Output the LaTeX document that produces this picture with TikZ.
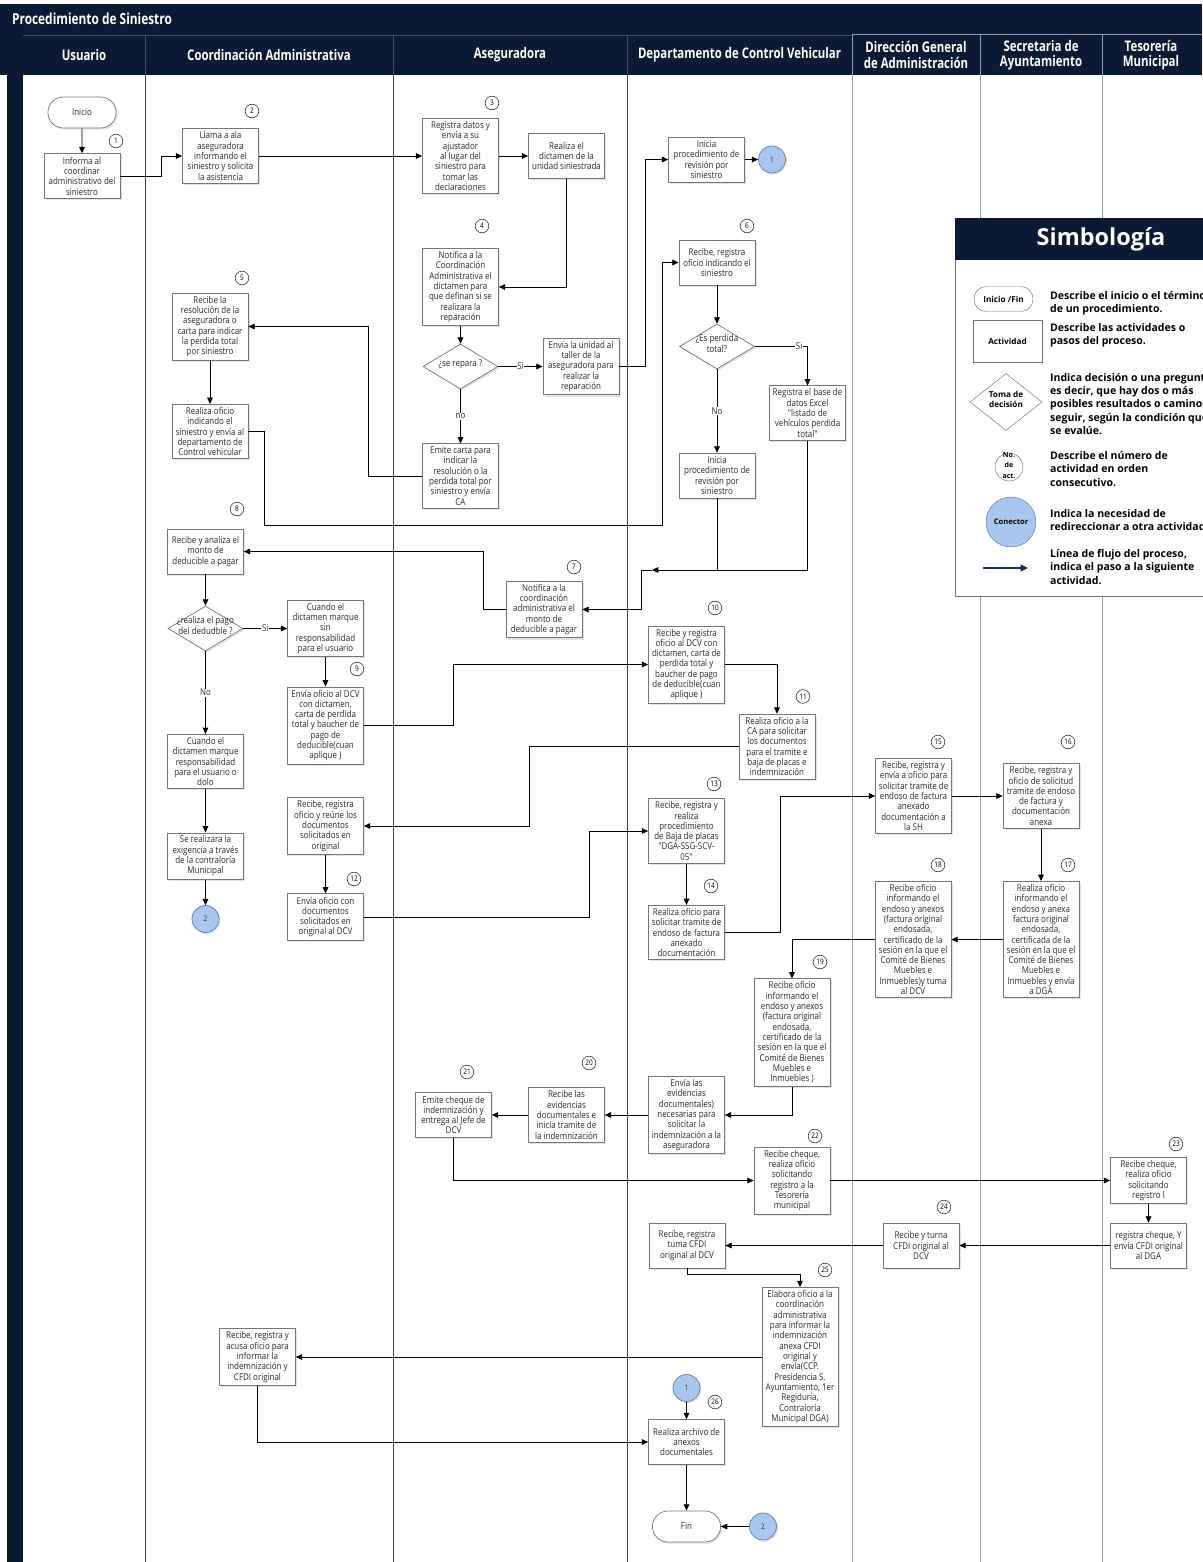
\documentclass[tikz,border=0pt]{standalone}
\usepackage{fontspec}
\setmainfont{Open Sans}
\newfontfamily\condfont{Open Sans}[FakeStretch=0.85]
\newfontfamily\hdrfont{Open Sans}[FakeStretch=0.78]
\usepackage{xcolor}
\usepackage{tikz}
\usetikzlibrary{
  arrows.meta, shapes.geometric, shapes.misc, shadows
}

\definecolor{navy}{HTML}{0A1A34}
\definecolor{hdrline}{HTML}{3B4B63}
\definecolor{lanegray}{HTML}{8C9DA3}
\definecolor{boxline}{HTML}{767676}
\definecolor{txtgray}{HTML}{2B2B2B}
\definecolor{conblue}{HTML}{A8C6EE}
\definecolor{conline}{HTML}{5F7EA9}
\definecolor{flecha}{HTML}{1C2C66}

\newcommand{\boxtext}{\condfont\fontsize{8}{8.8}\selectfont}
\newcommand{\numtext}{\condfont\fontsize{6.5}{7}\selectfont}
\newcommand{\dtxt}[1]{\raisebox{-0.3ex}{\makebox[0pt]{\smash{\begin{tabular}{@{}c@{}}#1\end{tabular}}}}}

\begin{document}
\begin{tikzpicture}[
    x=0.3mm, y=-0.3mm,
    sombra/.style={drop shadow={opacity=0.22, shadow xshift=0.5mm, shadow yshift=-0.5mm}},
    actbox/.style={draw=boxline, line width=0.6pt, fill=white, text=txtgray,
                   font=\boxtext, align=center, minimum width=22.8mm,
                   minimum height=13.5mm, inner xsep=0.5mm, inner ysep=0.9mm, sombra},
    term/.style={rounded rectangle, draw=boxline, line width=0.6pt, fill=white,
                 text=txtgray, font=\boxtext, minimum width=22.8mm,
                 minimum height=9.3mm, sombra},
    decis/.style={diamond, draw=boxline, line width=0.6pt, fill=white, text=txtgray,
                  font=\boxtext, minimum width=22.5mm, minimum height=13.5mm,
                  inner sep=0pt, sombra},
    numc/.style={circle, draw=black!80, line width=0.5pt, fill=white,
                 minimum size=4.1mm, inner sep=0pt, font=\numtext},
    conn/.style={circle, draw=conline, line width=0.6pt, fill=conblue, text=txtgray,
                 minimum size=8.1mm, inner sep=0pt, font=\numtext, sombra},
    lbl/.style={fill=white, text=txtgray, font=\boxtext, inner sep=0.6pt},
    arr/.style={-{Triangle[length=1.9mm, width=1.7mm]}, line width=0.7pt},
    hdr/.style={text=white, align=center,
                font=\hdrfont\bfseries\fontsize{12.5}{13}\selectfont},
    symtxt/.style={anchor=west, align=left, font=\bfseries\fontsize{9}{11.5}\selectfont}
  ]
  \useasboundingbox (0,0) rectangle (1202,1562);

  % encabezado y carriles
  \fill[navy] (0,4) rectangle (1202,75);
  \fill[navy] (7,75) rectangle (23,1562);
  \draw[hdrline, line width=0.6pt] (23,35) -- (852,35);
  \foreach \xl in {145,393,627}
    \draw[hdrline, line width=0.6pt] (\xl,35) -- (\xl,75);
  \draw[lanegray, line width=0.8pt] (852,34) -- (1202,34);
  \foreach \xl in {145,393,627}
    \draw[black!75, line width=0.8pt] (\xl,75) -- (\xl,1562);
  \foreach \xl in {852,980,1102}
    \draw[lanegray, line width=0.8pt] (\xl,34) -- (\xl,1562);

  \node[anchor=west, text=white, font=\hdrfont\bfseries\fontsize{13}{15}\selectfont]
    (titulo) at (8,19) {Procedimiento de Siniestro};
  \node[hdr] (hUsuario) at (84,55) {Usuario};
  \node[hdr] (hCoord)   at (269,55) {Coordinación Administrativa};
  \node[hdr] (hAseg)    at (510,55) {Aseguradora};
  \node[hdr] (hDCV)     at (739.5,55) {Departamento de Control Vehicular};
  \node[hdr] (hDGA)     at (916,55) {Dirección General\\de Administración};
  \node[hdr] (hSecAy)   at (1041,55) {Secretaria de\\Ayuntamiento};
  \node[hdr] (hTeso)    at (1151,55) {Tesorería\\Municipal};

  % simbologia
  \fill[white] (955,260) rectangle (1215,596);
  \draw[black!55, line width=0.6pt] (1215,596) -- (955,596) -- (955,218);
  \fill[navy] (955,218) rectangle (1215,260);
  \node[text=white, font=\bfseries\fontsize{20}{22}\selectfont] (simbologia) at (1101,239) {Simbología};
  \node[rounded rectangle, draw=boxline, fill=white, minimum width=20.1mm, minimum height=7.5mm,
        font=\bfseries\fontsize{7}{8}\selectfont] (symIni) at (1003.5,299) {Inicio /Fin};
  \node[draw=boxline, fill=white, minimum width=20.7mm, minimum height=12.6mm,
        font=\bfseries\fontsize{7}{8}\selectfont] (symAct) at (1007.5,341) {Actividad};
  \node[diamond, draw=boxline, fill=white, minimum width=21.6mm, minimum height=17.1mm,
        inner sep=0pt, font=\bfseries\fontsize{7}{8.8}\selectfont] (symDec) at (1006,402)
        {\dtxt{Toma de\\decisión}};
  \node[circle, draw=boxline, fill=white, minimum size=8.4mm, inner sep=0pt,
        font=\bfseries\fontsize{6}{9}\selectfont] (symNum) at (1009,467) {\dtxt{No.\\de\\act.}};
  \node[circle, draw=conline, fill=conblue, minimum size=15mm, inner sep=0pt,
        font=\bfseries\fontsize{6.5}{8}\selectfont] (symCon) at (1011,522) {Conector};
  \coordinate (symA) at (983,568);
  \coordinate (symB) at (1028,568);
  \draw[flecha, line width=1.5pt, -{Triangle[length=2.2mm, width=2mm]}] (symA) -- (symB);
  \node[symtxt] (symD1) at (1046,303) {Describe el inicio o el término\\de un procedimiento.};
  \node[symtxt] (symD2) at (1046,335) {Describe las actividades o\\pasos del proceso.};
  \node[symtxt] (symD3) at (1046,404) {Indica decisión o una pregunta,\\es decir, que hay dos o más\\posibles resultados o caminos a\\seguir, según la condición que\\se evalúe.};
  \node[symtxt] (symD4) at (1046,469) {Describe el número de\\actividad en orden\\consecutivo.};
  \node[symtxt] (symD5) at (1046,520) {Indica la necesidad de\\redireccionar a otra actividad.};
  \node[symtxt] (symD6) at (1046,567) {Línea de flujo  del proceso,\\indica el paso a la siguiente\\actividad.};

  % Usuario
  \node[term] (inicio) at (82,112.5) {Inicio};
  \node[numc] (n1) at (116,141) {1};
  \node[actbox] (informa) at (82,176) {Informa al\\coordinar\\administrativo del\\siniestro};

  % Coordinacion Administrativa
  \node[numc] (n2) at (252,111) {2};
  \node[actbox] (llama) at (220.5,156) {Llama a ala\\aseguradora\\informando el\\siniestro y solicita\\la asistencia};
  \node[numc] (n5) at (242,278) {5};
  \node[actbox] (recibeRes) at (210,326.5) {Recibe la\\resolución de la\\aseguradora o\\carta para indicar\\la perdida total\\por siniestro};
  \node[actbox] (oficioCA) at (210,431.5) {Realiza  oficio\\indicando el\\siniestro y envía al\\departamento de\\Control vehicular};
  \node[numc] (n8) at (237,509) {8};
  \node[actbox] (analiza) at (205.5,551.5) {Recibe  y analiza el\\monto de\\deducible a pagar};
  \node[decis] (pago) at (205.5,628.5) {\dtxt{¿realiza el pago\\del dedudble ?}};
  \node[actbox] (sinResp) at (325.5,628.5) {Cuando el\\dictamen marque\\sin\\responsabilidad\\para el usuario};
  \node[numc] (n9) at (357,669) {9};
  \node[actbox] (enviaDCV) at (325.5,725.5) {Envía oficio al DCV\\con dictamen,\\carta de perdida\\total y baucher de\\pago de\\deducible(cuan\\aplique )};
  \node[actbox] (conResp) at (205.5,761.5) {Cuando el\\dictamen marque\\responsabilidad\\para el usuario o\\dolo};
  \node[actbox] (exigencia) at (205.5,856) {Se  realizara la\\exigencia  a través\\de la contraloría\\Municipal};
  \node[conn] (conDos) at (205.5,919) {2};
  \node[actbox] (reune) at (325.5,826) {Recibe, registra\\oficio y reúne los\\documentos\\solicitados en\\original};
  \node[numc] (n12) at (354,879) {12};
  \node[actbox] (enviaDocs) at (325.5,917) {Envía oficio con\\documentos\\solicitados en\\original al DCV};
  \node[actbox] (acusa) at (257.5,1357) {Recibe, registra y\\acusa oficio  para\\informar la\\indemnización y\\CFDI original};

  % Aseguradora
  \node[numc] (n3) at (492,103) {3};
  \node[actbox] (regDatos) at (460.5,156) {Registra datos y\\envía a su\\ajustador\\al lugar del\\siniestro para\\tomar las\\declaraciones};
  \node[actbox] (dictamen) at (566.5,156) {Realiza  el\\dictamen de la\\unidad siniestrada};
  \node[numc] (n4) at (482,226) {4};
  \node[actbox] (notifica) at (460.5,287) {Notifica a la\\Coordinación\\Administrativa el\\dictamen para\\que definan si se\\realizara la\\reparación};
  \node[decis] (repara) at (460.5,366.5) {\dtxt{¿se repara ?}};
  \node[actbox] (taller) at (581,366.5) {Envía la unidad al\\taller de la\\aseguradora para\\realizar la\\reparación};
  \node[actbox] (emite) at (460.5,476) {Emite carta para\\indicar la\\resolución  o la\\perdida total por\\siniestro y envía\\CA};
  \node[numc] (n7) at (574,567) {7};
  \node[actbox] (notificaCA) at (544,609.5) {Notifica a la\\coordinación\\administrativa el\\monto de\\deducible a pagar};
  \node[numc] (n20) at (589,1063) {20};
  \node[actbox] (tramiteInd) at (566.5,1115) {Recibe  las\\evidencias\\documentales e\\inicia tramite de\\la indemnización};
  \node[numc] (n21) at (467,1072) {21};
  \node[actbox] (cheque) at (453.5,1115) {Emite  cheque de\\indemnización y\\entrega al Jefe de\\DCV};

  % Departamento de Control Vehicular
  \node[actbox] (iniciaA) at (706.5,159.5) {Inicia\\procedimiento  de\\revisión por\\siniestro};
  \node[conn] (conUno) at (772,159.5) {1};
  \node[numc] (n6) at (747,226) {6};
  \node[actbox] (recibeOf) at (717,262.5) {Recibe, registra\\oficio indicando el\\siniestro};
  \node[decis] (perdida) at (717,346.5) {\dtxt{¿Es perdida\\total?}};
  \node[actbox] (excel) at (807.5,413) {Registra el base de\\datos Excel\\"listado de\\vehículos perdida\\total"};
  \node[actbox] (iniciaB) at (717,475.5) {Inicia\\procedimiento de\\revisión por\\siniestro};
  \node[numc] (n10) at (715,608) {10};
  \node[actbox] (recibeDCV) at (686.5,664.5) {Recibe y registra\\oficio al DCV con\\dictamen, carta de\\perdida total y\\baucher de pago\\de deducible(cuan\\aplique )};
  \node[numc] (n11) at (803,696.5) {11};
  \node[actbox] (solicitaDocs) at (777,746.5) {Realiza oficio a la\\CA para solicitar\\los documentos\\para el tramite e\\baja de placas e\\indemnización};
  \node[numc] (n13) at (714,784) {13};
  \node[actbox] (bajaPlacas) at (686.5,831) {Recibe, registra  y\\realiza\\procedimiento\\de  Baja de placas\\"DGA-SSG-SCV-\\05"};
  \node[numc] (n14) at (711,886) {14};
  \node[actbox] (endoso) at (686.5,932.5) {Realiza oficio para\\solicitar tramite de\\endoso de factura\\anexado\\documentación};
  \node[numc] (n19) at (820,962) {19};
  \node[actbox] (informaDCV) at (792,1032.5) {Recibe  oficio\\informando el\\endoso y anexos\\(factura original\\endosada,\\certificado de la\\sesión en la que el\\Comité de Bienes\\Muebles e\\Inmuebles )};
  \node[actbox] (evidencias) at (686.5,1115) {Envía las\\evidencias\\documentales)\\necesarias para\\solicitar la\\indemnización a la\\aseguradora};
  \node[numc] (n22) at (815,1136) {22};
  \node[actbox] (recibeCheque) at (792,1180.5) {Recibe cheque,\\realiza oficio\\solicitando\\registro   a la\\Tesorería\\municipal};
  \node[actbox] (turnaDCV) at (687,1245.5) {Recibe, registra\\tuma  CFDI\\original al DCV};
  \node[numc] (n25) at (825,1270) {25};
  \node[actbox] (elabora) at (800,1357) {Elabora oficio a la\\coordinación\\administrativa\\para informar la\\indemnización\\anexa CFDI\\original y\\envía(CCP.\\Presidencia S.\\Ayuntamiento, 1er\\Regiduría,\\Contraloría\\Municipal DGA)};
  \node[conn] (conUnoB) at (686.5,1388) {1};
  \node[numc] (n26) at (715,1402) {26};
  \node[actbox] (archivo) at (686.5,1442) {Realiza archivo de\\anexos\\documentales};
  \node[term] (fin) at (686.5,1526.5) {Fin};
  \node[conn] (conDosB) at (763,1526.5) {2};

  % Direccion General de Administracion
  \node[numc] (n15) at (938,742) {15};
  \node[actbox] (tramiteSH) at (913.5,796) {Recibe, registra y\\envía a  oficio para\\solicitar tramite de\\endoso de factura\\anexado\\documentación  a\\la  SH};
  \node[numc] (n18) at (938,865) {18};
  \node[actbox] (informaDGA) at (913,939.5) {Recibe  oficio\\informando el\\endoso y anexos\\(factura original\\endosada,\\certificado de la\\sesión en la que el\\Comité de Bienes\\Muebles e\\Inmuebles)y tuma\\al DCV};
  \node[numc] (n24) at (944,1207) {24};
  \node[actbox] (turnaDGA) at (921,1245.5) {Recibe y turna\\CFDI original al\\DCV};

  % Secretaria de Ayuntamiento
  \node[numc] (n16) at (1068,742) {16};
  \node[actbox] (solicitudSA) at (1041,796) {Recibe, registra y\\oficio de solicitud\\tramite de endoso\\de factura y\\documentación\\anexa};
  \node[numc] (n17) at (1068,865) {17};
  \node[actbox] (anexaSA) at (1041,939.5) {Realiza oficio\\informando el\\endoso y anexa\\factura original\\endosada,\\certificada de la\\sesión en la que el\\Comité de Bienes\\Muebles e\\Inmuebles y envía\\a DGA};

  % Tesoreria Municipal
  \node[numc] (n23) at (1176,1144) {23};
  \node[actbox] (chequeTes) at (1148.5,1180.5) {Recibe cheque,\\realiza oficio\\solicitando\\registro l};
  \node[actbox] (registraTes) at (1148.5,1245.5) {registra cheque, Y\\envía CFDI original\\al DGA};

  % flujo
  \draw[arr] (inicio) -- (informa);
  \draw[arr] (informa.east) -- (161,176) |- (llama.west);
  \draw[arr] (llama) -- (regDatos);
  \draw[arr] (regDatos) -- (dictamen);
  \draw[arr] (dictamen.south) |- (notifica.east);
  \draw[arr] (notifica) -- (repara);
  \draw[arr] (repara) -- node[lbl] (siA) {Si} (taller);
  \draw[arr] (repara) -- node[lbl] (noA) {no} (emite);
  \draw[arr] (taller.east) -- (645,366.5) |- (iniciaA.west);
  \draw[arr] (iniciaA) -- (conUno);
  \draw[arr] (emite.west) -- (368,476) |- (recibeRes.east);
  \draw[arr] (recibeRes) -- (oficioCA);
  \draw[arr] (oficioCA.east) -- (264,431.5) |- (662,525) |- (recibeOf.west);
  \draw[arr] (recibeOf) -- (perdida);
  \draw[arr] (perdida.east) -| node[lbl, pos=0.42] (siB) {Si} (excel.north);
  \draw[arr] (perdida) -- node[lbl] (noB) {No} (iniciaB);
  \coordinate (junta) at (652,570);
  \draw[arr] (excel.south) |- (junta);
  \draw[line width=0.7pt] (iniciaB.south) -- (iniciaB.south |- junta);
  \draw[arr] (junta) -- (641,570) |- (notificaCA.east);
  \draw[arr] (notificaCA.west) -- (483,609.5) |- (analiza.east);
  \draw[arr] (analiza) -- (pago);
  \draw[arr] (pago) -- node[lbl] (siC) {Si} (sinResp);
  \draw[arr] (pago) -- node[lbl] (noC) {No} (conResp);
  \draw[arr] (sinResp) -- (enviaDCV);
  \draw[arr] (conResp) -- (exigencia);
  \draw[arr] (exigencia) -- (conDos);
  \draw[arr] (enviaDCV.east) -- (453,725.5) |- (recibeDCV.west);
  \draw[arr] (recibeDCV.east) -| (solicitaDocs.north);
  \draw[arr] (solicitaDocs.west) -- (529,746.5) |- (reune.east);
  \draw[arr] (reune) -- (enviaDocs);
  \draw[arr] (enviaDocs.east) -- (589,917) |- (bajaPlacas.west);
  \draw[arr] (bajaPlacas) -- (endoso);
  \draw[arr] (endoso.east) -- (780,932.5) |- (tramiteSH.west);
  \draw[arr] (tramiteSH) -- (solicitudSA);
  \draw[arr] (solicitudSA) -- (anexaSA);
  \draw[arr] (anexaSA) -- (informaDGA);
  \draw[arr] (informaDGA.west) -| (informaDCV.north);
  \draw[arr] (informaDCV.south) |- (evidencias.east);
  \draw[arr] (evidencias) -- (tramiteInd);
  \draw[arr] (tramiteInd) -- (cheque);
  \draw[arr] (cheque.south) |- (recibeCheque.west);
  \draw[arr] (recibeCheque) -- (chequeTes);
  \draw[arr] (chequeTes) -- (registraTes);
  \draw[arr] (registraTes) -- (turnaDGA);
  \draw[arr] (turnaDGA) -- (turnaDCV);
  \draw[arr] (turnaDCV.south) -- ++(0,6) -| (elabora.north);
  \draw[arr] (elabora) -- (acusa);
  \draw[arr] (acusa.south) |- (archivo.west);
  \draw[arr] (conUnoB) -- (archivo);
  \draw[arr] (archivo) -- (fin);
  \draw[arr] (conDosB) -- (fin);
\end{tikzpicture}
\end{document}
